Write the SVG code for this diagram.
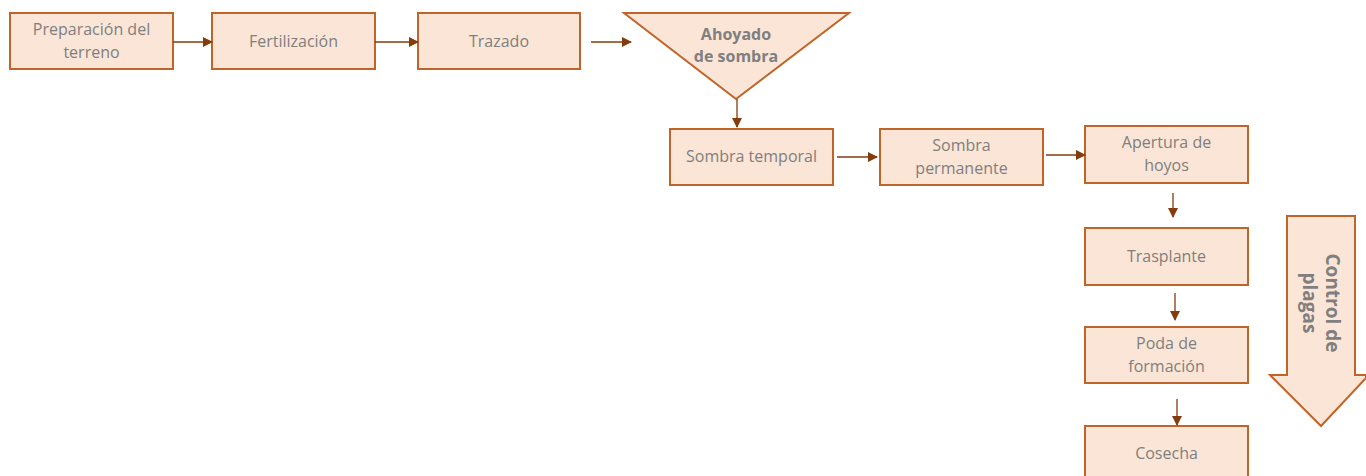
<svg xmlns="http://www.w3.org/2000/svg" width="1366" height="476" viewBox="0 0 1366 476">
<defs>
<marker id="ah" markerWidth="10" markerHeight="10" refX="9" refY="5" orient="auto" markerUnits="userSpaceOnUse">
<path d="M0,0 L10,5 L0,10 Z" fill="#843C0C"/>
</marker>
<style>
.box{fill:#FBE5D6;stroke:#C0652A;stroke-width:2}
.t{font-family:"Open Sans","Liberation Sans",sans-serif;font-size:16px;fill:#7F7F7F;text-anchor:middle}
.b{font-weight:bold}
.c{stroke:#843C0C;stroke-width:1.3;fill:none;marker-end:url(#ah)}
</style>
</defs>
<rect width="1366" height="476" fill="#FFFFFF"/>
<g id="n1"><rect class="box" x="10" y="13" width="163" height="56"/><text class="t" x="91.5" y="35">Preparación del</text><text class="t" x="91.5" y="58">terreno</text></g>
<g id="n2"><rect class="box" x="212" y="13" width="163" height="56"/><text class="t" x="293.5" y="47">Fertilización</text></g>
<g id="n3"><rect class="box" x="418" y="13" width="162" height="56"/><text class="t" x="499" y="47">Trazado</text></g>
<g id="n4"><polygon class="box" points="624,13 849,13 736,99"/><text class="t b" x="736" y="40">Ahoyado</text><text class="t b" x="736" y="62">de sombra</text></g>
<g id="n5"><rect class="box" x="670" y="129" width="163" height="56"/><text class="t" x="751.5" y="162">Sombra temporal</text></g>
<g id="n6"><rect class="box" x="880" y="129" width="163" height="56"/><text class="t" x="961.5" y="151">Sombra</text><text class="t" x="961.5" y="174">permanente</text></g>
<g id="n7"><rect class="box" x="1085" y="126" width="163" height="57"/><text class="t" x="1166.5" y="148">Apertura de</text><text class="t" x="1166.5" y="171">hoyos</text></g>
<g id="n8"><rect class="box" x="1085" y="228" width="163" height="57"/><text class="t" x="1166.5" y="262">Trasplante</text></g>
<g id="n9"><rect class="box" x="1085" y="327" width="163" height="56"/><text class="t" x="1166.5" y="349">Poda de</text><text class="t" x="1166.5" y="372">formación</text></g>
<g id="n10"><rect class="box" x="1085" y="426" width="163" height="57"/><text class="t" x="1166.5" y="459">Cosecha</text></g>
<g id="n11"><polygon class="box" points="1287,216 1355,216 1355,375 1366,375 1366,378 1321,426 1270,375 1287,375"/><text class="t b" transform="translate(1321,303) rotate(90)" style="font-size:19px"><tspan x="0" y="-5">Control de</tspan><tspan x="0" y="18">plagas</tspan></text></g>
<g id="connectors">
<line class="c" x1="173" y1="42" x2="212" y2="42"/>
<line class="c" x1="375" y1="42" x2="418" y2="42"/>
<line class="c" x1="591" y1="42" x2="631" y2="42"/>
<line class="c" x1="737" y1="99" x2="737" y2="127"/>
<line class="c" x1="837" y1="157" x2="877" y2="157"/>
<line class="c" x1="1046" y1="155" x2="1085" y2="155"/>
<line class="c" x1="1173" y1="193" x2="1173" y2="217"/>
<line class="c" x1="1175" y1="293" x2="1175" y2="320"/>
<line class="c" x1="1177" y1="399" x2="1177" y2="425"/>
</g>
</svg>
